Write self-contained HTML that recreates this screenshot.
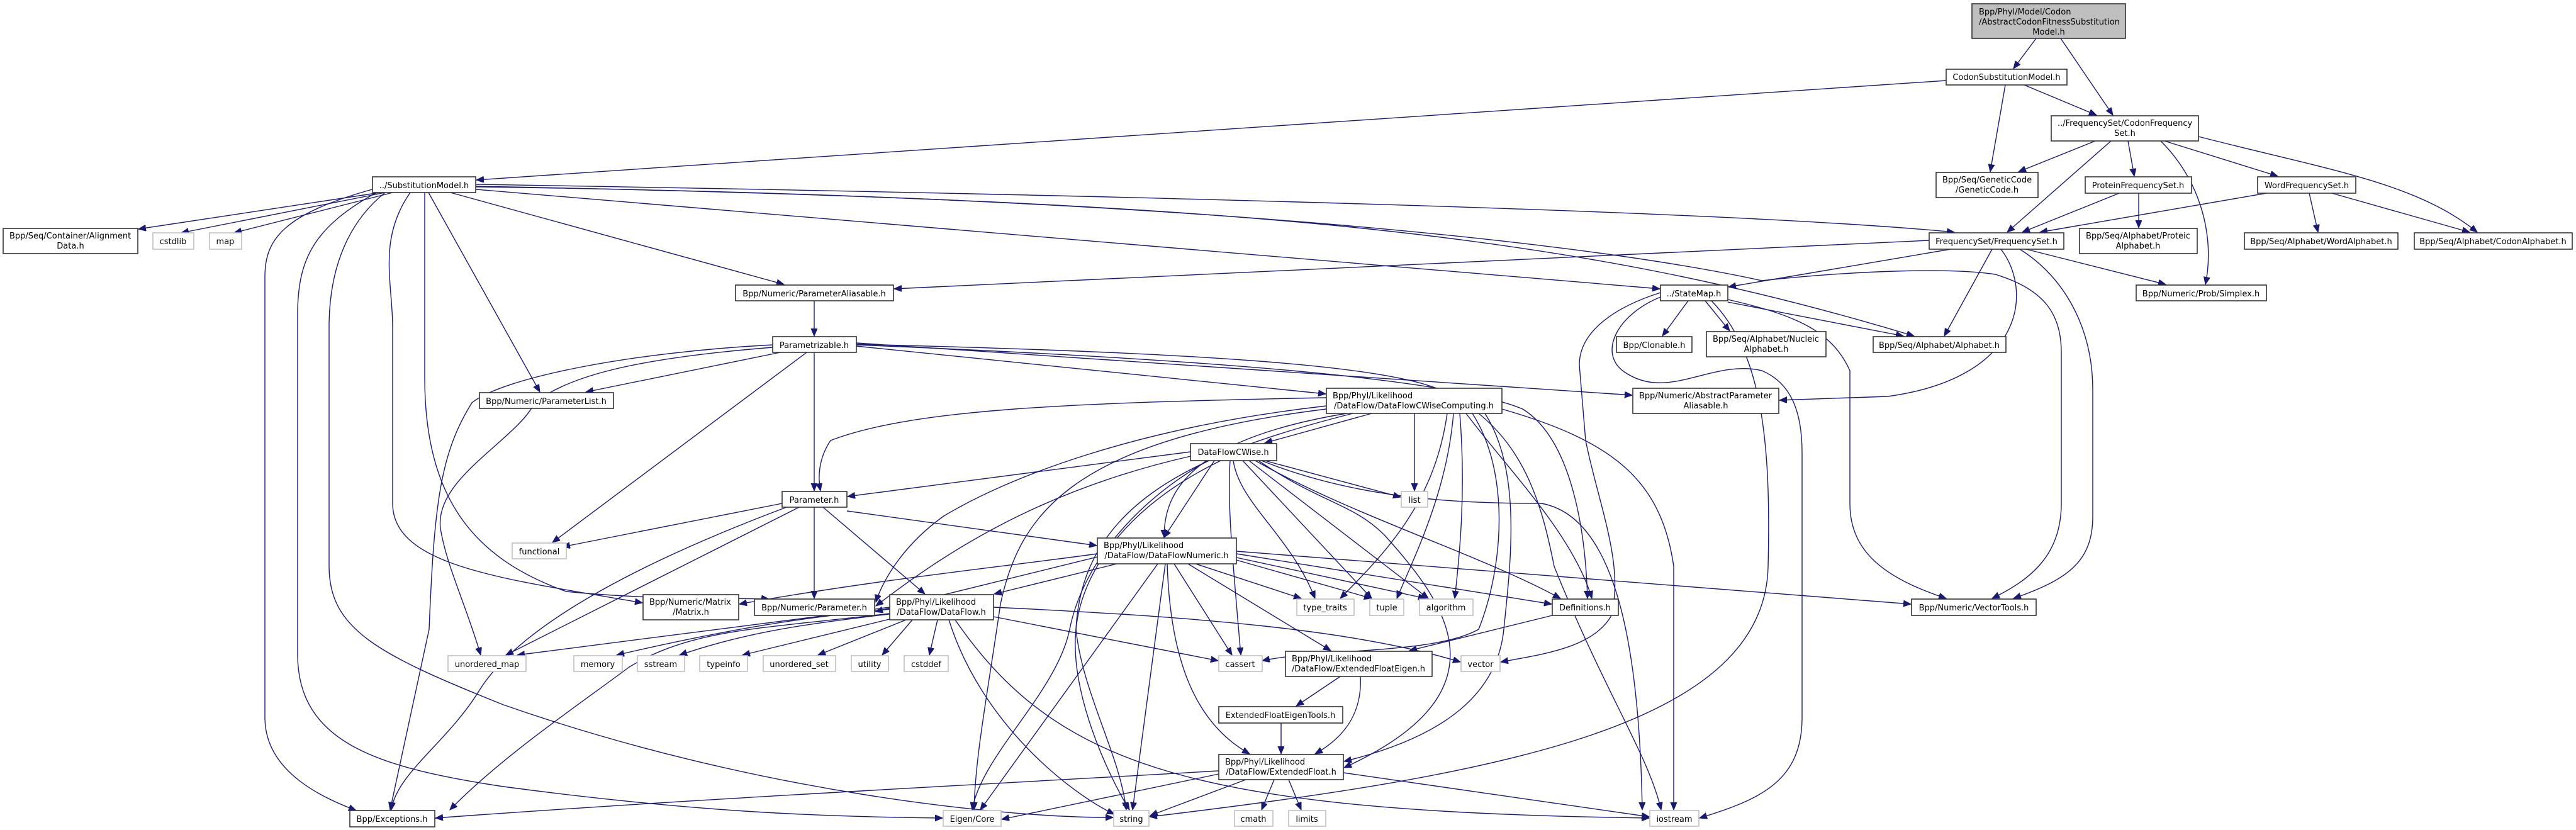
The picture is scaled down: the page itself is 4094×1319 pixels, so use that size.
<!DOCTYPE html>
<html><head><meta charset="utf-8"><style>
html,body{margin:0;padding:0;background:#fff;}
svg{display:block}
.e path{fill:none;stroke:#191970;stroke-width:1.4}
.n rect{fill:#fff;stroke:#333;stroke-width:1.6}
.n rect.g{stroke:#c0c0c0}
.n rect.t{fill:#bfbfbf}
text{font-family:"DejaVu Sans","Liberation Sans",sans-serif;font-size:13px;fill:#000}
.c{text-anchor:middle}
</style></head><body>
<svg width="4094" height="1319" viewBox="0 0 4094 1319" xmlns="http://www.w3.org/2000/svg">
<defs><marker id="a" markerUnits="userSpaceOnUse" markerWidth="14" markerHeight="12" refX="12" refY="5" orient="auto"><path d="M0,0 L12,5 L0,10 z" fill="#191970" stroke="#191970"/></marker></defs>
<g class="e">
<path d="M3236,61 L3200,109" marker-end="url(#a)"/>
<path d="M3275,61 L3358,183" marker-end="url(#a)"/>
<path d="M3093,128 L757,286" marker-end="url(#a)"/>
<path d="M3187,135 L3163,273" marker-end="url(#a)"/>
<path d="M3217,135 L3332,183" marker-end="url(#a)"/>
<path d="M3330,224 L3208,273" marker-end="url(#a)"/>
<path d="M3355,224 L3190,369" marker-end="url(#a)"/>
<path d="M3382,224 L3392,280" marker-end="url(#a)"/>
<path d="M3434,224 C3500,290 3520,380 3505,452" marker-end="url(#a)"/>
<path d="M3440,224 L3620,280" marker-end="url(#a)"/>
<path d="M3494,217 C3700,270 3840,290 3937,369" marker-end="url(#a)"/>
<path d="M3368,307 L3214,369" marker-end="url(#a)"/>
<path d="M3399,307 L3399,362" marker-end="url(#a)"/>
<path d="M3602,307 L3242,369" marker-end="url(#a)"/>
<path d="M3670,307 L3684,369" marker-end="url(#a)"/>
<path d="M3706,307 L3925,369" marker-end="url(#a)"/>
<path d="M604,306 L220,364" marker-end="url(#a)"/>
<path d="M612,306 L288,370" marker-end="url(#a)"/>
<path d="M624,306 L372,370" marker-end="url(#a)"/>
<path d="M757,293 C1500,305 2700,330 3106,369" marker-end="url(#a)"/>
<path d="M757,301 L2638,459" marker-end="url(#a)"/>
<path d="M716,306 L1246,452" marker-end="url(#a)"/>
<path d="M681,306 L858,623" marker-end="url(#a)"/>
<path d="M757,296 C2000,320 2500,370 3042,534" marker-end="url(#a)"/>
<path d="M757,297 C1800,310 2500,380 2800,446 C2950,430 3100,425 3171,436 C3250,460 3276,500 3276,560 L3276,800 C3276,880 3230,920 3166,951" marker-end="url(#a)"/>
<path d="M595,300 C450,340 421,380 421,440 L421,1140 C421,1230 520,1270 566,1288" marker-end="url(#a)"/>
<path d="M600,305 C500,360 473,410 473,500 L473,1040 C473,1180 600,1220 800,1250 C1100,1290 1300,1298 1498,1300" marker-end="url(#a)"/>
<path d="M612,306 C545,360 523,440 523,520 L523,900 C523,1000 600,1040 800,1120 C1200,1260 1600,1300 1769,1299" marker-end="url(#a)"/>
<path d="M652,306 C600,380 624,450 624,520 L624,800 C624,900 800,920 1021,958" marker-end="url(#a)"/>
<path d="M675,306 L675,600 C675,800 760,890 900,940 C1050,955 1200,950 1222,952" marker-end="url(#a)"/>
<path d="M1294,478 L1294,534" marker-end="url(#a)"/>
<path d="M3066,382 L1421,459" marker-end="url(#a)"/>
<path d="M3100,396 L2747,456" marker-end="url(#a)"/>
<path d="M3166,396 L3090,534" marker-end="url(#a)"/>
<path d="M3180,396 C3230,460 3220,600 3000,630 L2828,636" marker-end="url(#a)"/>
<path d="M3210,396 C3280,440 3326,520 3326,620 L3326,820 C3326,890 3290,920 3200,951" marker-end="url(#a)"/>
<path d="M3220,396 L3442,452" marker-end="url(#a)"/>
<path d="M2683,478 L2642,534" marker-end="url(#a)"/>
<path d="M2710,478 L2749,526" marker-end="url(#a)"/>
<path d="M2746,480 L3025,534" marker-end="url(#a)"/>
<path d="M2746,476 C2850,500 2911,524 2940,589 L2940,800 C2940,880 3000,920 3093,951" marker-end="url(#a)"/>
<path d="M2639,465 C2560,490 2510,530 2510,580 L2520,700 C2540,800 2583,900 2560,980 C2530,1030 2450,1040 2385,1052" marker-end="url(#a)"/>
<path d="M2639,472 C2570,500 2540,560 2580,590 C2650,640 2720,570 2800,589 C2850,610 2864,660 2864,720 L2864,1140 C2864,1240 2800,1270 2701,1300" marker-end="url(#a)"/>
<path d="M2720,478 C2800,560 2815,700 2810,900 C2805,1150 2400,1230 1827,1298" marker-end="url(#a)"/>
<path d="M1240,560 L931,623" marker-end="url(#a)"/>
<path d="M1282,560 L878,862" marker-end="url(#a)"/>
<path d="M1294,560 L1294,780" marker-end="url(#a)"/>
<path d="M1361,550 L2107,626" marker-end="url(#a)"/>
<path d="M1361,545 L2594,628" marker-end="url(#a)"/>
<path d="M1361,548 C1900,570 2300,600 2420,650 C2500,700 2520,850 2523,951" marker-end="url(#a)"/>
<path d="M1361,547 C1900,560 2200,580 2290,620 C2420,680 2450,800 2470,900 C2550,1100 2620,1200 2640,1287" marker-end="url(#a)"/>
<path d="M1228,548 C1000,560 800,600 750,640 C700,720 690,800 682,1000 L620,1287" marker-end="url(#a)"/>
<path d="M1228,552 C1000,570 900,600 850,640 C820,700 690,760 700,840 C710,900 740,960 764,1041" marker-end="url(#a)"/>
<path d="M1243,800 L894,869" marker-end="url(#a)"/>
<path d="M1294,806 L1294,951" marker-end="url(#a)"/>
<path d="M1270,806 L804,1041" marker-end="url(#a)"/>
<path d="M1250,806 C1000,900 820,1000 760,1100 C710,1180 630,1230 622,1287" marker-end="url(#a)"/>
<path d="M1308,806 L1470,944" marker-end="url(#a)"/>
<path d="M1346,812 L1743,867" marker-end="url(#a)"/>
<path d="M2108,632 C1700,640 1450,650 1320,700 C1300,730 1300,760 1304,780" marker-end="url(#a)"/>
<path d="M2180,657 L2010,704" marker-end="url(#a)"/>
<path d="M2248,657 L2248,780" marker-end="url(#a)"/>
<path d="M2108,645 C1800,680 1600,760 1500,820 C1430,870 1400,930 1392,957" marker-end="url(#a)"/>
<path d="M2140,657 C1880,700 1850,790 1850,854" marker-end="url(#a)"/>
<path d="M2300,657 C2280,800 2200,880 2130,951" marker-end="url(#a)"/>
<path d="M2310,657 C2300,780 2250,880 2220,951" marker-end="url(#a)"/>
<path d="M2320,657 C2330,780 2320,880 2312,951" marker-end="url(#a)"/>
<path d="M2330,657 C2400,750 2500,850 2530,951" marker-end="url(#a)"/>
<path d="M2340,657 C2400,750 2390,900 2350,1000 C2280,1040 2100,1030 2006,1050" marker-end="url(#a)"/>
<path d="M2360,657 C2420,750 2400,900 2390,1000 C2380,1100 2300,1170 2136,1210" marker-end="url(#a)"/>
<path d="M2387,650 C2560,700 2640,760 2660,900 L2660,1287" marker-end="url(#a)"/>
<path d="M2150,657 C1900,720 1720,800 1710,1000 C1700,1100 1760,1230 1795,1287" marker-end="url(#a)"/>
<path d="M2108,650 C1700,700 1620,820 1590,960 C1570,1100 1550,1200 1548,1287" marker-end="url(#a)"/>
<path d="M1892,718 L1347,789" marker-end="url(#a)"/>
<path d="M1892,725 C1650,780 1500,880 1392,963" marker-end="url(#a)"/>
<path d="M1930,732 L1850,854" marker-end="url(#a)"/>
<path d="M2010,732 L2226,790" marker-end="url(#a)"/>
<path d="M1960,732 C1970,800 2050,850 2090,951" marker-end="url(#a)"/>
<path d="M1975,732 L2180,951" marker-end="url(#a)"/>
<path d="M1985,732 L2270,951" marker-end="url(#a)"/>
<path d="M1995,732 C2150,820 2350,880 2480,951" marker-end="url(#a)"/>
<path d="M1955,732 C1950,800 1960,900 1972,1041" marker-end="url(#a)"/>
<path d="M2000,732 C2100,800 2150,800 2200,850 C2300,960 2400,1100 2136,1220" marker-end="url(#a)"/>
<path d="M2005,732 C2150,790 2300,800 2450,800 C2560,820 2605,1000 2610,1287" marker-end="url(#a)"/>
<path d="M1920,732 C1800,800 1720,900 1700,1000 C1680,1100 1560,1200 1545,1287" marker-end="url(#a)"/>
<path d="M1940,732 C1800,800 1720,900 1710,1000 C1720,1100 1780,1200 1790,1287" marker-end="url(#a)"/>
<path d="M1775,896 L1580,944" marker-end="url(#a)"/>
<path d="M1744,880 C1600,900 1400,920 1175,960" marker-end="url(#a)"/>
<path d="M1744,885 L1391,972" marker-end="url(#a)"/>
<path d="M1900,896 L2068,951" marker-end="url(#a)"/>
<path d="M1965,890 L2180,951" marker-end="url(#a)"/>
<path d="M1965,886 L2266,951" marker-end="url(#a)"/>
<path d="M1965,880 L2466,960" marker-end="url(#a)"/>
<path d="M1965,876 L3037,960" marker-end="url(#a)"/>
<path d="M1866,896 L1958,1041" marker-end="url(#a)"/>
<path d="M1888,896 L2115,1034" marker-end="url(#a)"/>
<path d="M1855,896 C1860,1050 1900,1150 1986,1198" marker-end="url(#a)"/>
<path d="M1852,896 L1800,1287" marker-end="url(#a)"/>
<path d="M1840,896 L1558,1287" marker-end="url(#a)"/>
<path d="M1414,975 C1200,1000 1100,1000 1000,1060 C920,1120 800,1200 715,1287" marker-end="url(#a)"/>
<path d="M1414,965 L822,1041" marker-end="url(#a)"/>
<path d="M1414,968 C1300,980 1200,990 980,1041" marker-end="url(#a)"/>
<path d="M1420,975 C1300,990 1200,1000 1080,1041" marker-end="url(#a)"/>
<path d="M1430,980 L1180,1041" marker-end="url(#a)"/>
<path d="M1440,985 L1300,1041" marker-end="url(#a)"/>
<path d="M1450,985 L1402,1041" marker-end="url(#a)"/>
<path d="M1490,985 L1477,1041" marker-end="url(#a)"/>
<path d="M1579,980 L1936,1050" marker-end="url(#a)"/>
<path d="M1579,965 C1900,980 2150,1000 2321,1052" marker-end="url(#a)"/>
<path d="M1508,985 C1560,1150 1700,1260 1771,1294" marker-end="url(#a)"/>
<path d="M1518,985 C1680,1220 1900,1290 2621,1300" marker-end="url(#a)"/>
<path d="M2467,978 L2240,1034" marker-end="url(#a)"/>
<path d="M2130,1075 L2060,1122" marker-end="url(#a)"/>
<path d="M2162,1075 C2165,1130 2140,1170 2090,1198" marker-end="url(#a)"/>
<path d="M2036,1149 L2036,1198" marker-end="url(#a)"/>
<path d="M1937,1225 C1500,1250 1100,1270 692,1300" marker-end="url(#a)"/>
<path d="M1937,1230 L1592,1302" marker-end="url(#a)"/>
<path d="M1980,1239 L1828,1296" marker-end="url(#a)"/>
<path d="M2025,1239 L2005,1287" marker-end="url(#a)"/>
<path d="M2048,1239 L2068,1287" marker-end="url(#a)"/>
<path d="M2135,1228 L2621,1298" marker-end="url(#a)"/>
</g>
<g class="n">
<rect class="t" x="3134" y="6" width="244" height="55"/>
<text x="3145" y="23">Bpp/Phyl/Model/Codon</text><text x="3145" y="39">/AbstractCodonFitnessSubstitution</text><text class="c" x="3256" y="55">Model.h</text>
<rect x="3093" y="110" width="192" height="25"/><text class="c" x="3189" y="127">CodonSubstitutionModel.h</text>
<rect x="3260" y="184" width="234" height="40"/><text x="3270" y="200">../FrequencySet/CodonFrequency</text><text class="c" x="3377" y="216">Set.h</text>
<rect x="3077" y="274" width="162" height="40"/><text x="3087" y="290">Bpp/Seq/GeneticCode</text><text class="c" x="3158" y="306">/GeneticCode.h</text>
<rect x="3314" y="281" width="169" height="26"/><text class="c" x="3398" y="299">ProteinFrequencySet.h</text>
<rect x="3588" y="281" width="156" height="26"/><text class="c" x="3666" y="299">WordFrequencySet.h</text>
<rect x="3066" y="370" width="214" height="26"/><text class="c" x="3173" y="388">FrequencySet/FrequencySet.h</text>
<rect x="3305" y="363" width="187" height="40"/><text x="3315" y="379">Bpp/Seq/Alphabet/Proteic</text><text class="c" x="3398" y="395">Alphabet.h</text>
<rect x="3567" y="370" width="244" height="26"/><text class="c" x="3689" y="388">Bpp/Seq/Alphabet/WordAlphabet.h</text>
<rect x="3837" y="370" width="251" height="26"/><text class="c" x="3962" y="388">Bpp/Seq/Alphabet/CodonAlphabet.h</text>
<rect x="3395" y="453" width="207" height="25"/><text class="c" x="3498" y="471">Bpp/Numeric/Prob/Simplex.h</text>
<rect x="2977" y="535" width="211" height="25"/><text class="c" x="3082" y="553">Bpp/Seq/Alphabet/Alphabet.h</text>
<rect x="592" y="281" width="164" height="25"/><text class="c" x="674" y="299">../SubstitutionModel.h</text>
<rect x="5" y="363" width="214" height="40"/><text x="15" y="379">Bpp/Seq/Container/Alignment</text><text class="c" x="112" y="395">Data.h</text>
<rect class="g" x="243" y="370" width="65" height="26"/><text class="c" x="275" y="388">cstdlib</text>
<rect class="g" x="333" y="370" width="51" height="26"/><text class="c" x="358" y="388">map</text>
<rect x="1169" y="453" width="251" height="25"/><text class="c" x="1294" y="471">Bpp/Numeric/ParameterAliasable.h</text>
<rect x="2639" y="453" width="107" height="25"/><text class="c" x="2692" y="471">../StateMap.h</text>
<rect x="1228" y="535" width="133" height="25"/><text class="c" x="1294" y="553">Parametrizable.h</text>
<rect x="2569" y="535" width="120" height="25"/><text class="c" x="2629" y="553">Bpp/Clonable.h</text>
<rect x="2712" y="527" width="190" height="40"/><text x="2722" y="543">Bpp/Seq/Alphabet/Nucleic</text><text class="c" x="2807" y="559">Alphabet.h</text>
<rect x="762" y="624" width="213" height="25"/><text class="c" x="868" y="642">Bpp/Numeric/ParameterList.h</text>
<rect x="2108" y="617" width="279" height="40"/><text x="2118" y="633">Bpp/Phyl/Likelihood</text><text class="c" x="2247" y="649">/DataFlow/DataFlowCWiseComputing.h</text>
<rect x="2595" y="617" width="232" height="40"/><text x="2605" y="633">Bpp/Numeric/AbstractParameter</text><text class="c" x="2711" y="649">Aliasable.h</text>
<rect x="1892" y="705" width="137" height="27"/><text class="c" x="1960" y="723">DataFlowCWise.h</text>
<rect x="1243" y="781" width="103" height="25"/><text class="c" x="1294" y="799">Parameter.h</text>
<rect class="g" x="2227" y="781" width="42" height="25"/><text class="c" x="2248" y="799">list</text>
<rect class="g" x="814" y="863" width="86" height="25"/><text class="c" x="857" y="881">functional</text>
<rect x="1744" y="855" width="221" height="41"/><text x="1754" y="871">Bpp/Phyl/Likelihood</text><text class="c" x="1854" y="887">/DataFlow/DataFlowNumeric.h</text>
<rect x="1022" y="945" width="152" height="40"/><text x="1032" y="961">Bpp/Numeric/Matrix</text><text class="c" x="1098" y="977">/Matrix.h</text>
<rect x="1199" y="952" width="191" height="26"/><text class="c" x="1294" y="970">Bpp/Numeric/Parameter.h</text>
<rect x="1414" y="945" width="165" height="40"/><text x="1424" y="961">Bpp/Phyl/Likelihood</text><text class="c" x="1496" y="977">/DataFlow/DataFlow.h</text>
<rect class="g" x="2061" y="952" width="91" height="26"/><text class="c" x="2106" y="970">type_traits</text>
<rect class="g" x="2177" y="952" width="54" height="26"/><text class="c" x="2204" y="970">tuple</text>
<rect class="g" x="2256" y="952" width="85" height="26"/><text class="c" x="2298" y="970">algorithm</text>
<rect x="2467" y="952" width="105" height="26"/><text class="c" x="2519" y="970">Definitions.h</text>
<rect x="3038" y="952" width="198" height="26"/><text class="c" x="3137" y="970">Bpp/Numeric/VectorTools.h</text>
<rect class="g" x="712" y="1042" width="124" height="25"/><text class="c" x="774" y="1060">unordered_map</text>
<rect class="g" x="912" y="1042" width="77" height="25"/><text class="c" x="950" y="1060">memory</text>
<rect class="g" x="1013" y="1042" width="75" height="25"/><text class="c" x="1050" y="1060">sstream</text>
<rect class="g" x="1112" y="1042" width="76" height="25"/><text class="c" x="1150" y="1060">typeinfo</text>
<rect class="g" x="1213" y="1042" width="115" height="25"/><text class="c" x="1270" y="1060">unordered_set</text>
<rect class="g" x="1353" y="1042" width="59" height="25"/><text class="c" x="1382" y="1060">utility</text>
<rect class="g" x="1437" y="1042" width="70" height="25"/><text class="c" x="1472" y="1060">cstddef</text>
<rect class="g" x="1937" y="1042" width="69" height="25"/><text class="c" x="1971" y="1060">cassert</text>
<rect x="2043" y="1035" width="233" height="40"/><text x="2053" y="1051">Bpp/Phyl/Likelihood</text><text class="c" x="2159" y="1067">/DataFlow/ExtendedFloatEigen.h</text>
<rect class="g" x="2322" y="1042" width="62" height="25"/><text class="c" x="2353" y="1060">vector</text>
<rect x="1937" y="1123" width="197" height="26"/><text class="c" x="2035" y="1141">ExtendedFloatEigenTools.h</text>
<rect x="1937" y="1199" width="198" height="40"/><text x="1947" y="1215">Bpp/Phyl/Likelihood</text><text class="c" x="2036" y="1231">/DataFlow/ExtendedFloat.h</text>
<rect x="556" y="1288" width="135" height="26"/><text class="c" x="623" y="1306">Bpp/Exceptions.h</text>
<rect class="g" x="1499" y="1288" width="92" height="25"/><text class="c" x="1545" y="1306">Eigen/Core</text>
<rect class="g" x="1770" y="1288" width="56" height="25"/><text class="c" x="1798" y="1306">string</text>
<rect class="g" x="1962" y="1288" width="61" height="25"/><text class="c" x="1992" y="1306">cmath</text>
<rect class="g" x="2048" y="1288" width="59" height="25"/><text class="c" x="2077" y="1306">limits</text>
<rect class="g" x="2622" y="1288" width="78" height="25"/><text class="c" x="2661" y="1306">iostream</text>
</g>
</svg>
</body></html>
